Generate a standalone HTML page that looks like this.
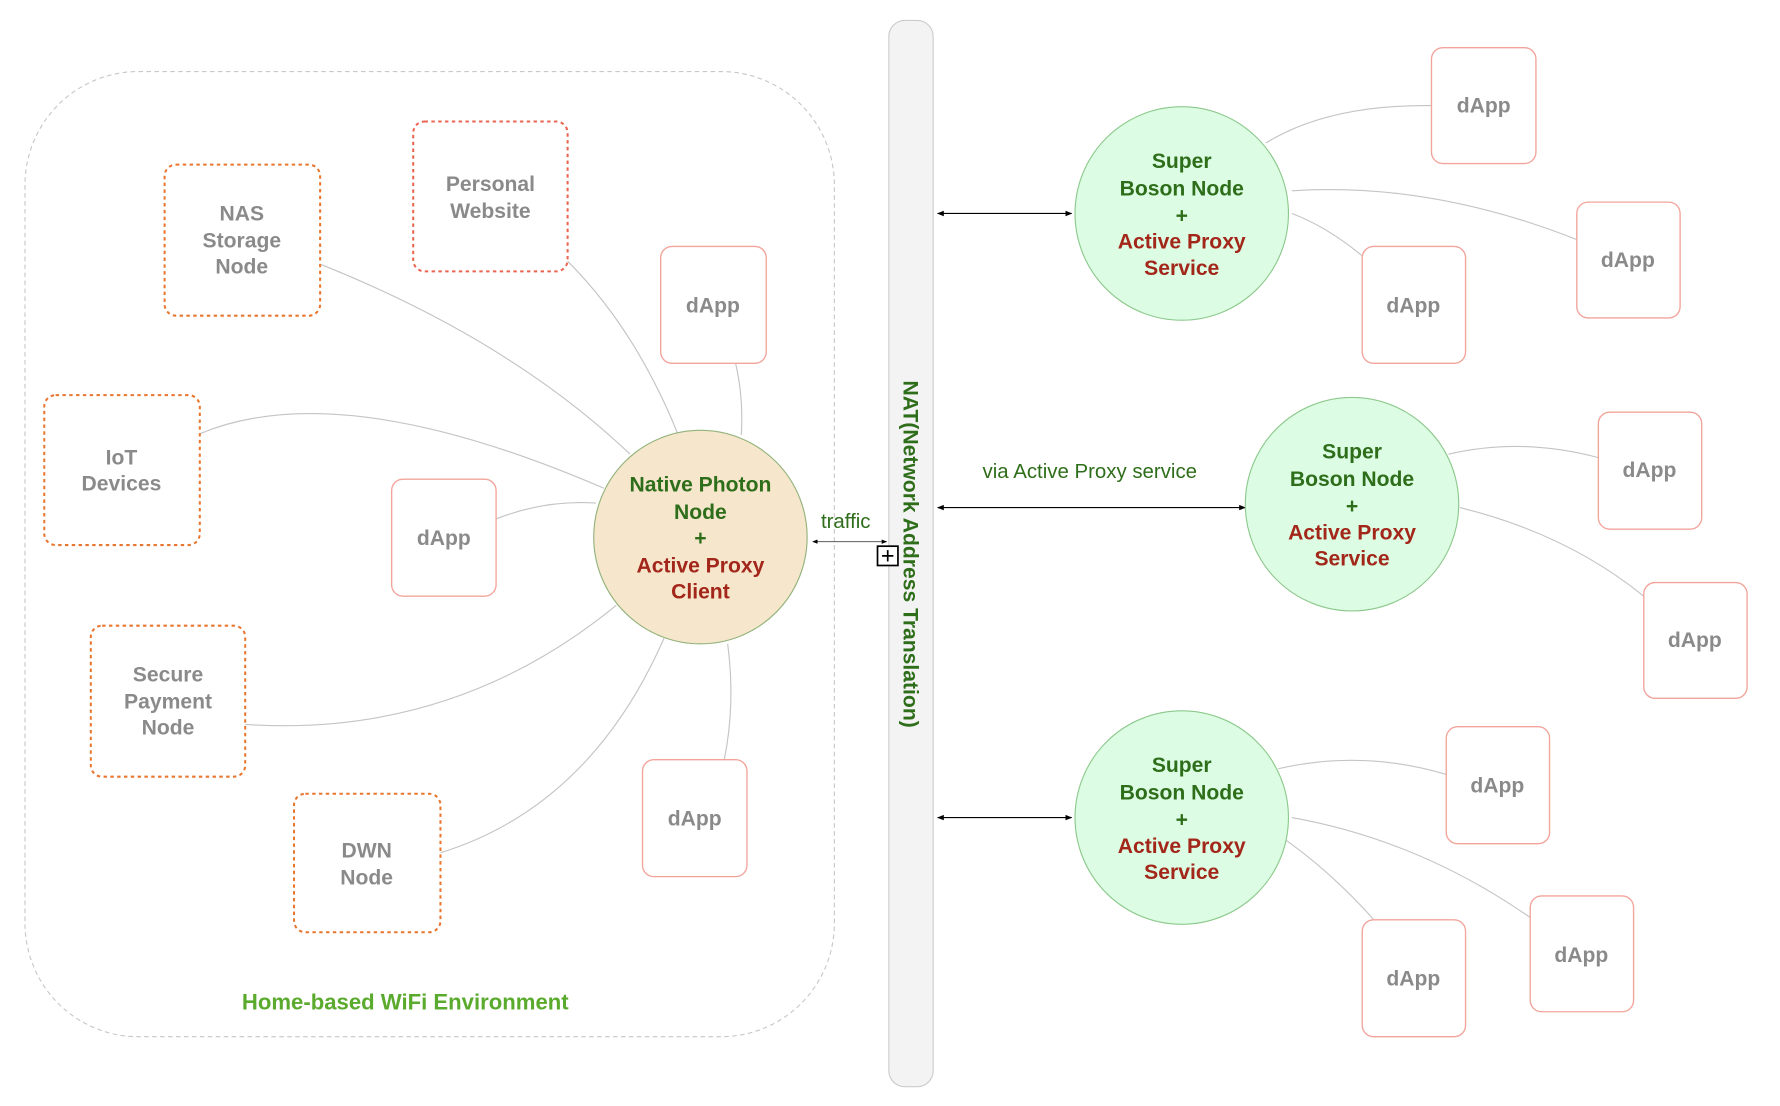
<!DOCTYPE html>
<html><head><meta charset="utf-8"><style>
html,body{margin:0;padding:0;background:#fff;}
svg{display:block;}
text{font-family:"Liberation Sans",Arial,sans-serif;font-weight:bold;font-size:18.6px;text-anchor:middle;}
.g{fill:#8a8a8a}.gr{fill:#2e6e1a}.rd{fill:#a3261a}
.c{fill:none;stroke:#c4c4c4;stroke-width:1}
.da{fill:#fff;stroke:#f2a49b;stroke-width:1.2}
.do{fill:#fff;stroke:#e8762f;stroke-width:1.8;stroke-dasharray:3 3}
.dr{fill:#fff;stroke:#ea6550;stroke-width:1.8;stroke-dasharray:3 3}
.sb{fill:#dcfde3;stroke:#8dc98d;stroke-width:1}
</style></head><body>
<svg width="1780" height="1106" viewBox="0 0 1568 974" preserveAspectRatio="none" xmlns="http://www.w3.org/2000/svg">
<defs><marker id="a" viewBox="0 0 10 10" refX="9" refY="5" markerWidth="6" markerHeight="6" orient="auto-start-reverse"><path d="M0,1 L10,5 L0,9 z" fill="#000"/></marker></defs>
<rect x="22" y="63" width="713" height="850" rx="100" fill="none" stroke="#c8c8c8" stroke-dasharray="4 3"/>
<text x="357" y="889" style="fill:#5aab2d;font-size:19.5px">Home-based  WiFi Environment</text>
<path class="c" d="M283,233 Q450,300 555,400"/>
<path class="c" d="M500,230 Q560,290 597,382"/>
<path class="c" d="M648,320 Q655,350 653,383"/>
<path class="c" d="M176,382 Q300,330 532,430"/>
<path class="c" d="M437,457 Q480,440 525,443"/>
<path class="c" d="M216,638 Q400,650 543,533"/>
<path class="c" d="M388,751 Q520,710 585,562"/>
<path class="c" d="M641,567 Q648,620 638,669"/>
<rect class="do" x="145" y="145" width="137" height="133" rx="10"/>
<text class="g" x="213" y="194">NAS</text><text class="g" x="213" y="218">Storage</text><text class="g" x="213" y="241">Node</text>
<rect class="dr" x="364" y="107" width="136" height="132" rx="10"/>
<text class="g" x="432" y="168">Personal</text><text class="g" x="432" y="192">Website</text>
<rect class="do" x="39" y="348" width="137" height="132" rx="10"/>
<text class="g" x="107" y="409">IoT</text><text class="g" x="107" y="432">Devices</text>
<rect class="do" x="80" y="551" width="136" height="133" rx="10"/>
<text class="g" x="148" y="600">Secure</text><text class="g" x="148" y="624">Payment</text><text class="g" x="148" y="647">Node</text>
<rect class="do" x="259" y="699" width="129" height="122" rx="10"/>
<text class="g" x="323" y="755">DWN</text><text class="g" x="323" y="779">Node</text>
<rect class="da" x="582" y="217" width="93" height="103" rx="10"/><text class="g" x="628" y="275">dApp</text>
<rect class="da" x="345" y="422" width="92" height="103" rx="10"/><text class="g" x="391" y="480">dApp</text>
<rect class="da" x="566" y="669" width="92" height="103" rx="10"/><text class="g" x="612" y="727">dApp</text>
<circle cx="617" cy="473" r="94" fill="#f5e6cc" stroke="#93b37a"/>
<text class="gr" x="617" y="433">Native Photon</text><text class="gr" x="617" y="457">Node</text><text class="gr" x="617" y="480">+</text>
<text class="rd" x="617" y="504">Active Proxy</text><text class="rd" x="617" y="527">Client</text>
<text x="745" y="465" style="font-weight:normal;fill:#2e6e1a;font-size:18px">traffic</text>
<line x1="716" y1="477" x2="781" y2="477" stroke="#444" stroke-width="0.8" marker-start="url(#a)" marker-end="url(#a)"/>
<rect x="783" y="18" width="39" height="939" rx="14" fill="#f3f3f3" stroke="#cccccc"/>
<text class="gr" transform="translate(796,488) rotate(90)">NAT(Network Address Translation)</text>
<rect x="773" y="481" width="18" height="17" fill="#fff" stroke="#000" stroke-width="1.5"/>
<path d="M777,489.5 h10 M782,484.5 v10" stroke="#000" stroke-width="1.5"/>
<line x1="826" y1="188" x2="944" y2="188" stroke="#000" marker-start="url(#a)" marker-end="url(#a)"/>
<line x1="826" y1="447" x2="1097" y2="447" stroke="#000" marker-start="url(#a)" marker-end="url(#a)"/>
<line x1="826" y1="720" x2="944" y2="720" stroke="#000" marker-start="url(#a)" marker-end="url(#a)"/>
<text x="960" y="421" style="font-weight:normal;fill:#2e6e1a;font-size:18px">via Active Proxy service</text>
<path class="c" d="M1115,126 Q1170,92 1261,93"/>
<path class="c" d="M1138,168 Q1260,160 1389,211"/>
<path class="c" d="M1138,188 Q1170,200 1202,227"/>
<path class="c" d="M1276,400 Q1340,385 1408,403"/>
<path class="c" d="M1286,447 Q1380,470 1448,525"/>
<path class="c" d="M1126,677 Q1200,660 1274,682"/>
<path class="c" d="M1138,720 Q1250,740 1348,808"/>
<path class="c" d="M1133,740 Q1175,770 1212,812"/>
<circle class="sb" cx="1041" cy="188" r="94"/>
<circle class="sb" cx="1191" cy="444" r="94"/>
<circle class="sb" cx="1041" cy="720" r="94"/>
<g>
<text class="gr" x="1041" y="148">Super</text><text class="gr" x="1041" y="172">Boson Node</text><text class="gr" x="1041" y="196">+</text><text class="rd" x="1041" y="219">Active Proxy</text><text class="rd" x="1041" y="242">Service</text>
<text class="gr" x="1191" y="404">Super</text><text class="gr" x="1191" y="428">Boson Node</text><text class="gr" x="1191" y="452">+</text><text class="rd" x="1191" y="475">Active Proxy</text><text class="rd" x="1191" y="498">Service</text>
<text class="gr" x="1041" y="680">Super</text><text class="gr" x="1041" y="704">Boson Node</text><text class="gr" x="1041" y="728">+</text><text class="rd" x="1041" y="751">Active Proxy</text><text class="rd" x="1041" y="774">Service</text>
</g>
<rect class="da" x="1261" y="42" width="92" height="102" rx="10"/><text class="g" x="1307" y="99">dApp</text>
<rect class="da" x="1389" y="178" width="91" height="102" rx="10"/><text class="g" x="1434" y="235">dApp</text>
<rect class="da" x="1200" y="217" width="91" height="103" rx="10"/><text class="g" x="1245" y="275">dApp</text>
<rect class="da" x="1408" y="363" width="91" height="103" rx="10"/><text class="g" x="1453" y="420">dApp</text>
<rect class="da" x="1448" y="513" width="91" height="102" rx="10"/><text class="g" x="1493" y="570">dApp</text>
<rect class="da" x="1274" y="640" width="91" height="103" rx="10"/><text class="g" x="1319" y="698">dApp</text>
<rect class="da" x="1348" y="789" width="91" height="102" rx="10"/><text class="g" x="1393" y="847">dApp</text>
<rect class="da" x="1200" y="810" width="91" height="103" rx="10"/><text class="g" x="1245" y="868">dApp</text>
</svg>
</body></html>
